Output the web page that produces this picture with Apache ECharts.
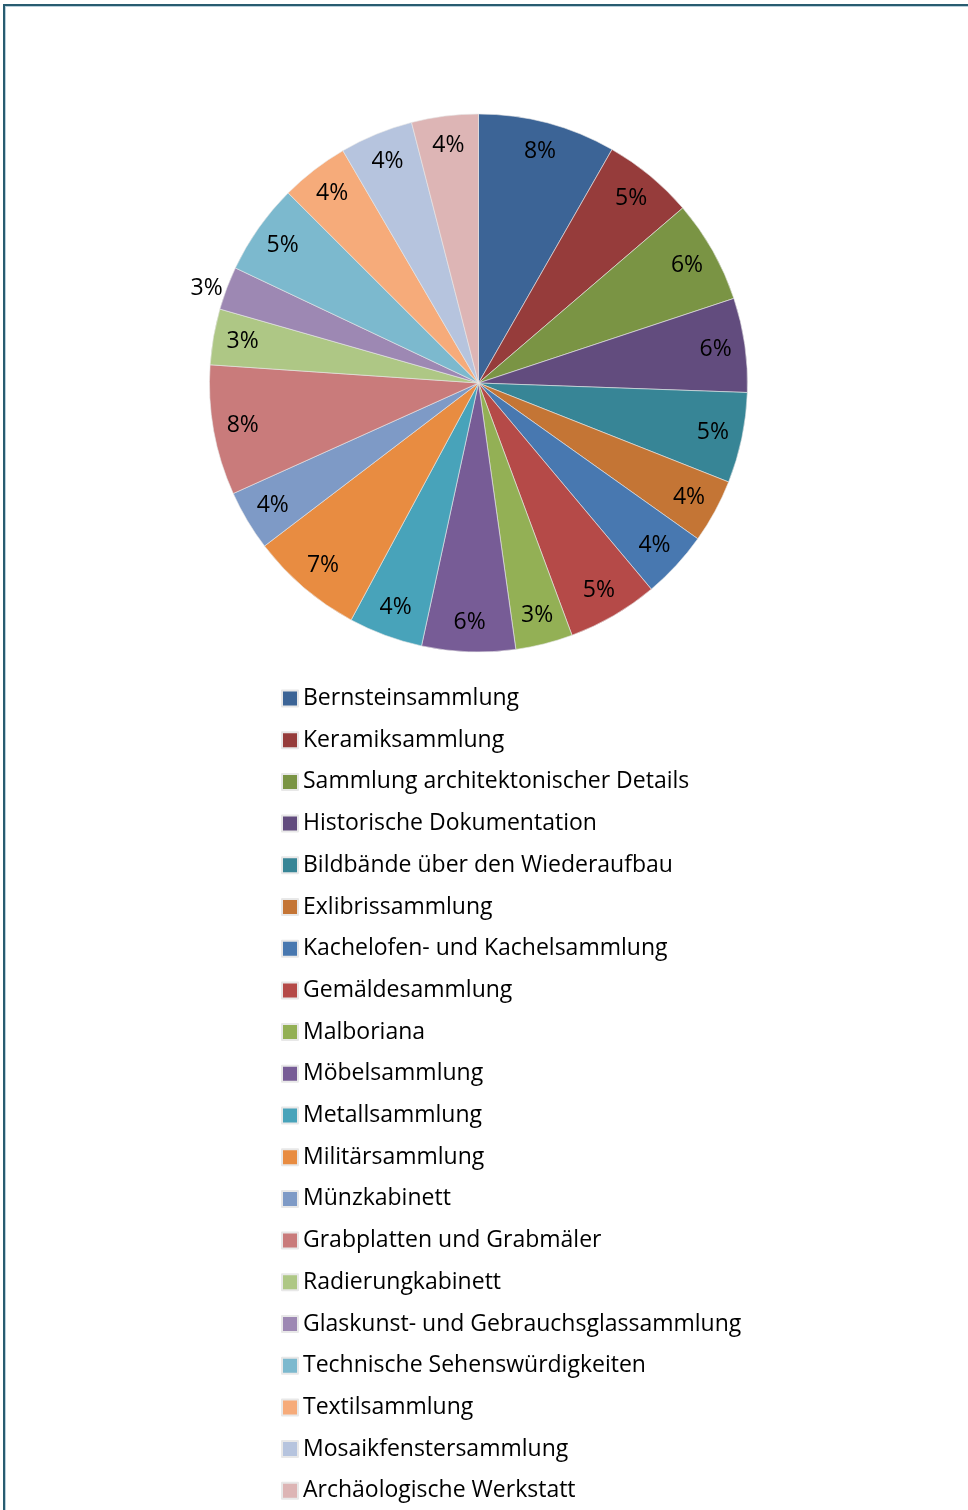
<!DOCTYPE html>
<html>
<head>
<meta charset="utf-8">
<script src="https://cdn.jsdelivr.net/npm/echarts@6/dist/echarts.min.js"></script>
<style>
  html, body { margin: 0; padding: 0; background: #fff; overflow: hidden; width: 968px; height: 1510px; }
  .frame {
    position: absolute; left: 3px; top: 4px; width: 1000px; height: 1600px;
    border-top: 2px solid #285C70; border-left: 2px solid #285C70;
    box-shadow: inset 1px 1px 0 #B9D0DC;
  }
  #chart { position: absolute; left: 0; top: 0; width: 968px; height: 1560px; }
</style>
</head>
<body>
<div class="frame"></div>
<div id="chart"></div>
<script>
// Sammlungen (Anteile, im Uhrzeigersinn ab 12 Uhr)
const sammlungen = [
  "Bernsteinsammlung",
  "Keramiksammlung",
  "Sammlung architektonischer Details",
  "Historische Dokumentation",
  "Bildbände über den Wiederaufbau",
  "Exlibrissammlung",
  "Kachelofen- und Kachelsammlung",
  "Gemäldesammlung",
  "Malboriana",
  "Möbelsammlung",
  "Metallsammlung",
  "Militärsammlung",
  "Münzkabinett",
  "Grabplatten und Grabmäler",
  "Radierungkabinett",
  "Glaskunst- und Gebrauchsglassammlung",
  "Technische Sehenswürdigkeiten",
  "Textilsammlung",
  "Mosaikfenstersammlung",
  "Archäologische Werkstatt"
];
const anteile = [8.26, 5.45, 6.18, 5.65, 5.43, 3.83, 4.06, 5.45, 3.43, 5.61,
                 4.45, 6.78, 3.62, 7.81, 3.35, 2.6, 5.45, 4.1, 4.4, 4.0];
const farben = [
  "#3C6496", "#963C3B", "#7A9444", "#624C7E", "#378596",
  "#C47535", "#4878B0", "#B54A48", "#93B055", "#775C96",
  "#48A3BA", "#E88C41", "#7E9AC6", "#C97B7B", "#AEC785",
  "#9D88B3", "#7CB9CE", "#F6AB7A", "#B6C4DE", "#DDB5B5"
];
// Etiketten außerhalb des Kreises
const aussen = ["Glaskunst- und Gebrauchsglassammlung"];

const font = "'Open Sans', 'Noto Sans', sans-serif";
const chart = echarts.init(document.getElementById("chart"));

const center = [478.5, 383];
const R = 269;

chart.setOption({
  animation: false,
  color: farben,
  legend: {
    orient: "vertical",
    left: 281,
    top: 687,
    padding: 0,
    icon: "rect",
    itemWidth: 16,
    itemHeight: 16,
    itemGap: 18.7,
    selectedMode: false,
    data: sammlungen,
    textStyle: { fontFamily: font, fontSize: 23, color: "#000", lineHeight: 22 }
  },
  series: [
    {
      name: "Sammlungen",
      type: "pie",
      center: center,
      radius: [0, R],
      startAngle: 90,
      clockwise: true,
      silent: true,
      label: { show: false },
      labelLine: { show: false },
      itemStyle: { borderColor: "#e8e8e8", borderWidth: 0.6 },
      data: sammlungen.map((n, i) => ({ name: n, value: anteile[i] }))
    },
    {
      name: "Etiketten",
      type: "pie",
      center: center,
      radius: [204, R],
      startAngle: 90,
      clockwise: true,
      silent: true,
      itemStyle: { color: "rgba(0,0,0,0)" },
      label: {
        show: true,
        position: "inside",
        fontFamily: font,
        fontSize: 23,
        color: "#000",
        formatter: p => Math.round(p.percent) + "%"
      },
      labelLine: { show: false, length: 0, length2: 0 },
      data: sammlungen.map((n, i) => {
        const d = { name: n, value: anteile[i] };
        if (aussen.includes(n)) {
          d.label = { position: "outside", distanceToLabelLine: 4 };
          d.labelLine = { show: false, length: 0, length2: 0 };
        }
        return d;
      })
    }
  ]
});
</script>
</body>
</html>
